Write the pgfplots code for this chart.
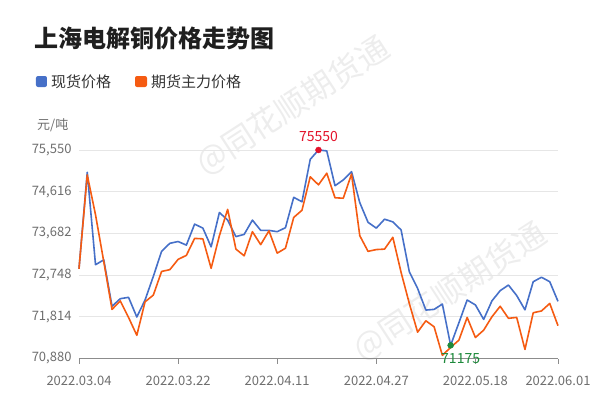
\documentclass[border=0pt]{standalone}
\usepackage{fontspec}
\setmainfont{Noto Sans CJK SC}
\usepackage{pgfplots}
\usepackage{pgfplotstable}
\pgfplotsset{compat=1.18}
\definecolor{spot}{HTML}{4670C8}
\definecolor{fut}{HTML}{F55B12}
\definecolor{ticktxt}{HTML}{6E6E6E}
\definecolor{gridc}{HTML}{E6E6E6}
\definecolor{maxred}{HTML}{E3122A}
\definecolor{mingreen}{HTML}{1E8A3C}

\pgfplotstableread{
i spot fut
0 72890 72890
1 75050 74990
2 72980 74100
3 73090 73050
4 72050 71980
5 72220 72170
6 72250 71800
7 71810 71400
8 72190 72150
9 72720 72300
10 73280 72830
11 73460 72870
12 73500 73100
13 73420 73190
14 73890 73570
15 73800 73560
16 73380 72900
17 74150 73630
18 73980 74220
19 73610 73330
20 73660 73180
21 73980 73720
22 73750 73430
23 73750 73740
24 73720 73240
25 73810 73350
26 74490 74040
27 74390 74200
28 75340 74950
29 75550 74770
30 75530 75030
31 74750 74480
32 74880 74470
33 75065 75010
34 74370 73630
35 73930 73280
36 73800 73320
37 74000 73330
38 73940 73595
39 73760 72810
40 72820 72110
41 72450 71470
42 71965 71725
43 71980 71590
44 72100 70950
45 71175 71130
46 71680 71290
47 72190 71800
48 72080 71350
49 71755 71515
50 72170 71814
51 72400 72050
52 72525 71780
53 72290 71800
54 71970 71083
55 72600 71905
56 72700 71945
57 72600 72113
58 72160 71615
}\data

\begin{document}
\begin{tikzpicture}
\begin{scope}[shift={(-79pt,-49.5pt)}]
\path (0pt,0pt) rectangle (600pt,408pt);
% watermarks
\node[rotate=33, text=black!7, font=\fontsize{32}{32}\selectfont] at (293pt,302pt) {@同花顺期货通};
\node[rotate=33, text=black!7, font=\fontsize{32}{32}\selectfont] at (450pt,116pt) {@同花顺期货通};
% title
\node[anchor=west, inner sep=0, text=black!88, font=\fontsize{24}{24}\selectfont\bfseries] at (34pt,370pt) {上海电解铜价格走势图};
% legend
\fill[spot, rounded corners=2pt] (36pt,321pt) rectangle (47pt,332pt);
\node[anchor=west, inner sep=0, text=black!80, font=\fontsize{15}{15}\selectfont] at (51pt,326.5pt) {现货价格};
\fill[fut, rounded corners=2pt] (135pt,321pt) rectangle (147pt,332pt);
\node[anchor=west, inner sep=0, text=black!80, font=\fontsize{15}{15}\selectfont] at (151pt,326.5pt) {期货主力价格};
% unit
\node[anchor=west, inner sep=0, text=ticktxt, font=\fontsize{13}{13}\selectfont] at (37pt,283pt) {元/吨};
\end{scope}
\begin{axis}[
  at={(0pt,0pt)}, anchor=south west, scale only axis,
  width=479pt, height=208.5pt,
  xmin=0, xmax=58, ymin=70880, ymax=75550,
  clip=false,
  axis x line*=bottom, axis y line*=left,
  y axis line style={draw=none},
  x axis line style={draw=black!45, line width=0.8pt, -},
  ytick={70880,71814,72748,73682,74616,75550},
  ytick style={draw=none},
  xtick={0,12,24,36,48,58},
  xticklabels={2022.03.04,2022.03.22,2022.04.11,2022.04.27,2022.05.18,2022.06.01},
  xtick align=outside, major tick length=5pt,
  xtick style={draw=black!45, line width=0.8pt},
  ymajorgrids, grid style={gridc, line width=0.8pt},
  scaled y ticks=false,
  yticklabel style={text=ticktxt, font=\fontsize{13}{13}\selectfont, xshift=-4pt,
     /pgf/number format/.cd, fixed, 1000 sep={,}, assume math mode=true},
  xticklabel style={text=ticktxt, font=\fontsize{13}{13}\selectfont, yshift=-9pt},
]
\addplot[spot, line width=1.6pt, line join=round] table[x=i, y=spot] {\data};
\addplot[fut, line width=1.6pt, line join=round] table[x=i, y=fut] {\data};
\addplot[only marks, mark=*, mark size=3pt, maxred] coordinates {(29,75550)};
\addplot[only marks, mark=*, mark size=3pt, mingreen] coordinates {(45,71175)};
\node[text=maxred, font=\fontsize{14}{14}\selectfont] at (axis cs:29,75550) [yshift=13pt] {75550};
\node[text=mingreen, font=\fontsize{14}{14}\selectfont] at (axis cs:45,71175) [xshift=10pt, yshift=-13pt] {71175};
\end{axis}
\end{tikzpicture}
\end{document}
